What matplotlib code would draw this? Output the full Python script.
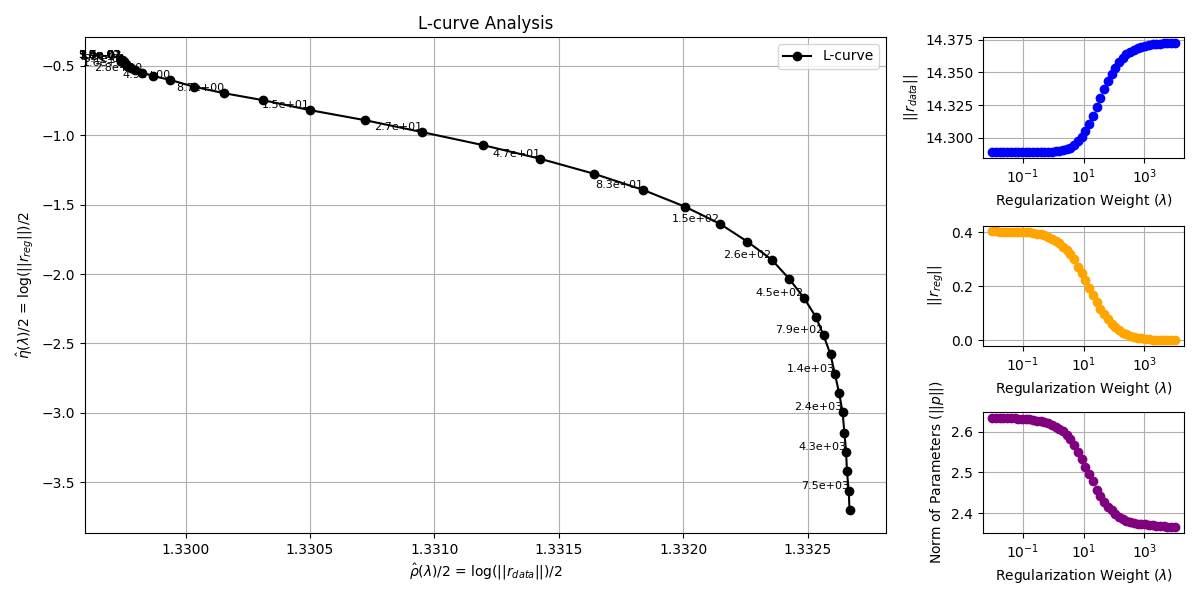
import numpy as np
import matplotlib
matplotlib.use("Agg")
import matplotlib.pyplot as plt

# regularization weights
lambdas = [0.01, 0.013257, 0.017575, 0.0233, 0.030888, 0.040949, 0.054287, 0.071969,
           0.09541, 0.12649, 0.16768, 0.2223, 0.29471, 0.39069, 0.51795, 0.68665,
           0.9103, 1.2068, 1.5999, 2.121, 2.8118, 3.7276, 4.9417, 6.5513,
           8.6851, 11.514, 15.264, 20.236, 26.827, 35.565, 47.149, 62.506,
           82.864, 109.85, 145.64, 193.07, 255.95, 339.32, 449.84, 596.36,
           790.6, 1048.1, 1389.5, 1842.1, 2442.1, 3237.5, 4291.9, 5689.9,
           7543.1, 10000.0]

r_data = [14.2889, 14.2889, 14.2889, 14.2889, 14.2889, 14.2889, 14.2889, 14.2889,
          14.2889, 14.2889, 14.2890, 14.2890, 14.2890, 14.2891, 14.2891, 14.2892,
          14.2894, 14.2896, 14.2900, 14.2905, 14.2913, 14.2925, 14.2945, 14.2972,
          14.3007, 14.3052, 14.3106, 14.3169, 14.3235, 14.3305, 14.3371, 14.3433,
          14.3490, 14.3538, 14.3578, 14.3610, 14.3638, 14.3658, 14.3675, 14.3689,
          14.3698, 14.3706, 14.3711, 14.3716, 14.3720, 14.3722, 14.3724, 14.3725,
          14.3727, 14.3728]

r_reg = [0.40365, 0.40353, 0.40341, 0.40330, 0.40312, 0.40295, 0.40278, 0.40249,
         0.40191, 0.40105, 0.39990, 0.39818, 0.39589, 0.39305, 0.38911, 0.38410,
         0.37753, 0.36947, 0.35951, 0.34780, 0.33408, 0.31861, 0.30077, 0.27313,
         0.24838, 0.22456, 0.19449, 0.16844, 0.14171, 0.11754, 0.09650, 0.07777,
         0.06152, 0.04837, 0.03788, 0.02924, 0.02256, 0.01717, 0.01306, 0.009894,
         0.007561, 0.005752, 0.004357, 0.003282, 0.002497, 0.001864, 0.001418, 0.001064,
         0.000809, 0.000607]

p_norm = [2.634, 2.634, 2.6337, 2.6335, 2.6332, 2.6328, 2.6323, 2.6318,
          2.6313, 2.6306, 2.630, 2.6285, 2.6268, 2.625, 2.623, 2.620,
          2.617, 2.612, 2.606, 2.601, 2.592, 2.583, 2.568, 2.551,
          2.532, 2.514, 2.496, 2.478, 2.458, 2.442, 2.427, 2.416,
          2.408, 2.399, 2.392, 2.385, 2.382, 2.379, 2.377, 2.375,
          2.374, 2.373, 2.372, 2.371, 2.370, 2.369, 2.368, 2.367,
          2.3665, 2.366]

rho = np.log(r_data) / 2
eta = np.log(r_reg) / 2

fig = plt.figure(figsize=(12, 6), dpi=100)
ax = fig.add_axes([0.0708, 0.1117, 0.6675, 0.8267])
ax1 = fig.add_axes([0.8192, 0.7372, 0.1675, 0.2007])
ax2 = fig.add_axes([0.8192, 0.4238, 0.1675, 0.1995])
ax3 = fig.add_axes([0.8192, 0.1122, 0.1675, 0.2007])

# L-curve
ax.plot(rho, eta, 'ko-', label='L-curve')
for i in range(0, len(lambdas), 2):
    ax.annotate(f"{lambdas[i]:.1e}", (rho[i], eta[i]), fontsize=8,
                ha='right', va='bottom')
ax.set_xlabel(r'$\hat{\rho}(\lambda)/2$ = log($||r_{data}||$)/2')
ax.set_ylabel(r'$\hat{\eta}(\lambda)/2$ = log($||r_{reg}||$)/2')
ax.set_title('L-curve Analysis')
ax.legend(loc='upper right')
ax.grid(True)

ax1.plot(lambdas, r_data, 'o', color='blue')
ax1.set_xscale('log')
ax1.set_xlabel(r'Regularization Weight ($\lambda$)')
ax1.set_ylabel(r'$||r_{data}||$')
ax1.grid(True)

ax2.plot(lambdas, r_reg, 'o', color='orange')
ax2.set_xscale('log')
ax2.set_xlabel(r'Regularization Weight ($\lambda$)')
ax2.set_ylabel(r'$||r_{reg}||$')
ax2.grid(True)

ax3.plot(lambdas, p_norm, 'o', color='purple')
ax3.set_xscale('log')
ax3.set_xlabel(r'Regularization Weight ($\lambda$)')
ax3.set_ylabel(r'Norm of Parameters ($||p||$)')
ax3.grid(True)

fig.savefig('out.png')
